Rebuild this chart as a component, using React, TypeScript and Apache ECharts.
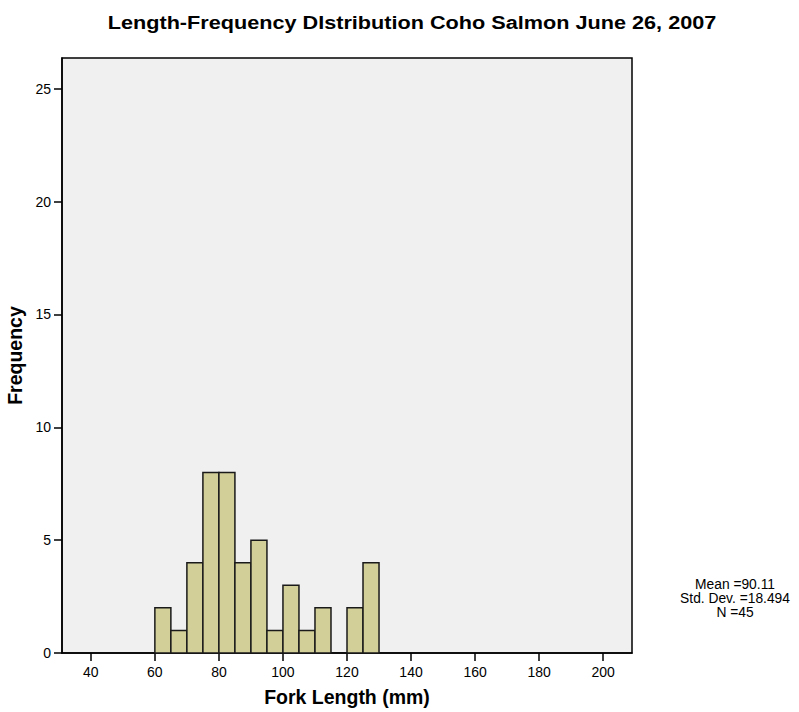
import React, { useEffect, useRef } from "react";
import * as echarts from "echarts";

const binStarts = [60, 65, 70, 75, 80, 85, 90, 95, 100, 105, 110, 115, 120, 125];
const binWidth = 5;
const counts = [2, 1, 4, 8, 8, 4, 5, 1, 3, 1, 2, 0, 2, 4];
const xTicks = [40, 60, 80, 100, 120, 140, 160, 180, 200];
const yTicks = [0, 5, 10, 15, 20, 25];
const statsLines = ["Mean =90.11", "Std. Dev. =18.494", "N =45"];
const titleText = "Length-Frequency DIstribution Coho Salmon June 26, 2007";

const FONT = "Liberation Sans, Arial, sans-serif";

export default function App() {
  const ref = useRef<HTMLDivElement>(null);
  useEffect(() => {
    if (!ref.current) return;
    const chart = echarts.init(ref.current, null, { renderer: "svg" });
    const data = binStarts.map((s, i) => [s, s + binWidth, counts[i]]);
    chart.setOption({
      animation: false,
      backgroundColor: "#ffffff",
      textStyle: { fontFamily: FONT },
      grid: {
        left: 62, right: 167, top: 58, bottom: 59,
        outerBoundsMode: "none", containLabel: false,
        show: true, backgroundColor: "#F0F0F0", borderColor: "#000", borderWidth: 1.5,
      },
      xAxis: {
        type: "value",
        min: 31,
        max: 209,
        name: "Fork Length (mm)",
        nameLocation: "middle",
        nameGap: 34,
        nameTextStyle: { fontSize: 19.5, fontWeight: "bold", color: "#000", fontFamily: FONT },
        axisLine: { show: true, onZero: false, lineStyle: { color: "#000", width: 1.5 } },
        axisTick: { show: true, customValues: xTicks, length: 8, lineStyle: { color: "#000", width: 1.5 } },
        axisLabel: { customValues: xTicks, fontSize: 14, color: "#000", margin: 12, fontFamily: FONT },
        splitLine: { show: false },
      },
      yAxis: {
        type: "value",
        min: 0,
        max: 26.36,
        name: "Frequency",
        nameLocation: "middle",
        nameGap: 28,
        nameTextStyle: { fontSize: 19.5, fontWeight: "bold", color: "#000", fontFamily: FONT },
        axisLine: { show: true, lineStyle: { color: "#000", width: 1.5 } },
        axisTick: { show: true, customValues: yTicks, length: 8, lineStyle: { color: "#000", width: 1.5 } },
        axisLabel: { customValues: yTicks, fontSize: 14, color: "#000", margin: 11, fontFamily: FONT },
        splitLine: { show: false },
      },
      series: [
        {
          type: "custom",
          data,
          encode: { x: [0, 1], y: 2 },
          renderItem: (params: any, api: any) => {
            const c = api.value(2);
            if (!c) return null;
            const p1 = api.coord([api.value(0), c]);
            const p2 = api.coord([api.value(1), 0]);
            return {
              type: "rect",
              shape: { x: p1[0], y: p1[1], width: p2[0] - p1[0], height: p2[1] - p1[1] },
              style: { fill: "#D3CF99", stroke: "#1a1a1a", lineWidth: 1.5 },
            };
          },
        },
      ],
      graphic: [
        {
          type: "text",
          x: 412,
          y: 22,
          scaleX: 1.14,
          style: {
            text: titleText,
            fontSize: 19,
            fontWeight: "bold",
            align: "center",
            verticalAlign: "middle",
            fill: "#000",
            fontFamily: FONT,
          },
        },
        {
          type: "text",
          x: 735,
          y: 577,
          style: {
            text: statsLines.join("\n"),
            fontSize: 13.8,
            lineHeight: 14,
            align: "center",
            verticalAlign: "top",
            fill: "#000",
            fontFamily: FONT,
          },
        },
      ],
    });
    return () => chart.dispose();
  }, []);
  return (
    <div
      ref={ref}
      style={{ position: "absolute", left: 0, top: 0, width: 799, height: 712 }}
    />
  );
}
